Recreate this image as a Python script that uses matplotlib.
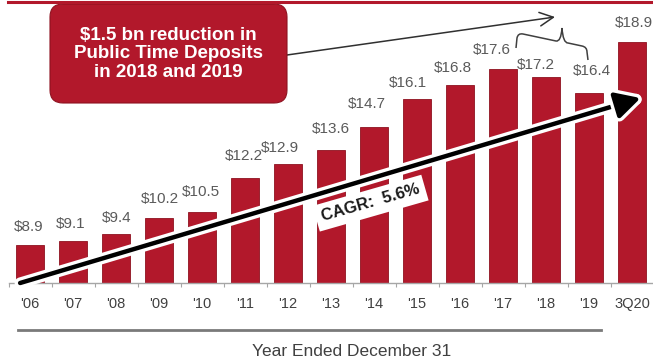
import matplotlib
matplotlib.use("Agg")
import matplotlib.pyplot as plt
import matplotlib.patheffects as pe
from matplotlib.patches import FancyBboxPatch, PathPatch
from matplotlib.path import Path
from matplotlib.lines import Line2D
from matplotlib.transforms import IdentityTransform

plt.rcParams['font.family'] = ['Liberation Sans', 'DejaVu Sans']

# deposits, $ bn
years = ["'06", "'07", "'08", "'09", "'10", "'11", "'12", "'13", "'14",
         "'15", "'16", "'17", "'18", "'19", "3Q20"]
deposits = [8.9, 9.1, 9.4, 10.2, 10.5, 12.2, 12.9, 13.6, 14.7,
            16.1, 16.8, 17.6, 17.2, 16.4, 18.9]
value_labels = ["$%.1f" % v for v in deposits]
cagr_text = "CAGR:  5.6%"
callout_text = "$1.5 bn reduction in\nPublic Time Deposits\nin 2018 and 2019"

# small nudges (pixels) so the value labels sit like the slide version
label_nudge = [(-1, 18), (-2, 17), (1, 16), (1, 19), (-1, 20), (-1, 22), (-8, 16),
               (0, 21), (-7, 23), (-9, 16), (-7, 17), (-11, 19), (-10, 12), (3, 22), (2, 19)]

RED = '#b2182b'
W, H = 653, 364

fig = plt.figure(figsize=(W / 100, H / 100), dpi=100)
ax = fig.add_axes([8.5 / W, (H - 283) / H, 645 / W, 283 / H])

x = list(range(len(years)))
ax.bar(x, deposits, width=0.64, color=RED, edgecolor='#8e1220', linewidth=0.6, zorder=2)
ax.set_xlim(-0.5, len(years) - 0.5)
ax.set_ylim(7.0, 21.0)

for i, (v, lab) in enumerate(zip(deposits, value_labels)):
    dx, dy = label_nudge[i]
    ax.annotate(lab, xy=(i, v), xytext=(dx, dy), textcoords='offset pixels',
                ha='center', va='center', fontsize=11, color='#5a5a5a', zorder=3)

for s in ['top', 'left', 'right']:
    ax.spines[s].set_visible(False)
ax.spines['bottom'].set_color('#a6a6a6')
ax.spines['bottom'].set_linewidth(1.0)
ax.set_yticks([])
ax.set_xticks(x)
ax.set_xticklabels(years, fontsize=10.5, color='#404040')
ax.set_xticks([i - 0.5 for i in range(len(years) + 1)], minor=True)
ax.tick_params(axis='x', which='major', length=0, pad=10)
ax.tick_params(axis='x', which='minor', length=3, color='#a6a6a6', width=0.8)

# growth arrow across the bars
ax.annotate('', xy=(14.2, 16.15), xytext=(-0.23, 7.0),
            arrowprops=dict(arrowstyle='-|>,head_length=0.75,head_width=0.4',
                            mutation_scale=20, lw=3.2, color='black',
                            shrinkA=0, shrinkB=0,
                            path_effects=[pe.Stroke(linewidth=8, foreground='white'),
                                          pe.Normal()]),
            annotation_clip=False, zorder=5)
ax.text(7.92, 10.95, cagr_text, rotation=16, rotation_mode='anchor',
        ha='center', va='center', fontsize=12, fontweight='bold', color='#1a1a1a',
        bbox=dict(boxstyle='square,pad=0.35', facecolor='white', edgecolor='none'),
        zorder=6)

# red rule along the top
fig.add_artist(Line2D([8 / W, 1.0], [1 - 1.5 / H] * 2, color=RED, lw=2.2))

# callout box
box = FancyBboxPatch((50, H - 103), 237, 99, boxstyle='round,pad=0,rounding_size=13',
                     transform=IdentityTransform(), facecolor=RED, edgecolor='#8e1220',
                     linewidth=0.8)
fig.add_artist(box)
fig.text(168 / W, 1 - 54 / H, callout_text, ha='center', va='center',
         fontsize=13.5, fontweight='bold', color='white', linespacing=1.15)

# thin pointer from the callout toward the brace
ax.annotate('', xy=(555, H - 17), xytext=(287, H - 55),
            xycoords='figure pixels', textcoords='figure pixels',
            arrowprops=dict(arrowstyle='->,head_length=0.7,head_width=0.35',
                            mutation_scale=14, lw=1.1, color='#303030',
                            shrinkA=0, shrinkB=0),
            annotation_clip=False)

# brace over '17-'19
brace_pts = [(516, 48), (517, 38), (518, 33), (523, 34), (556, 41), (561, 42), (562, 28),
             (563, 43), (568, 43), (582, 46), (587, 47), (587, 52), (588, 60)]
brace_codes = [Path.MOVETO, Path.LINETO, Path.CURVE3, Path.CURVE3, Path.LINETO,
               Path.CURVE3, Path.CURVE3, Path.CURVE3, Path.CURVE3, Path.LINETO,
               Path.CURVE3, Path.CURVE3, Path.LINETO]
brace = Path([(px, H - py) for px, py in brace_pts], brace_codes)
fig.add_artist(PathPatch(brace, transform=IdentityTransform(), facecolor='none',
                         edgecolor='#404040', lw=1.1))

# axis caption with rule above it
fig.add_artist(Line2D([18 / W, 601 / W], [1 - 330 / H] * 2, color='#7a7a7a', lw=2.0))
fig.text(352 / W, 1 - 352 / H, 'Year Ended December 31', ha='center', va='center',
         fontsize=12.5, color='#404040')

fig.savefig('out.png', dpi=100)
